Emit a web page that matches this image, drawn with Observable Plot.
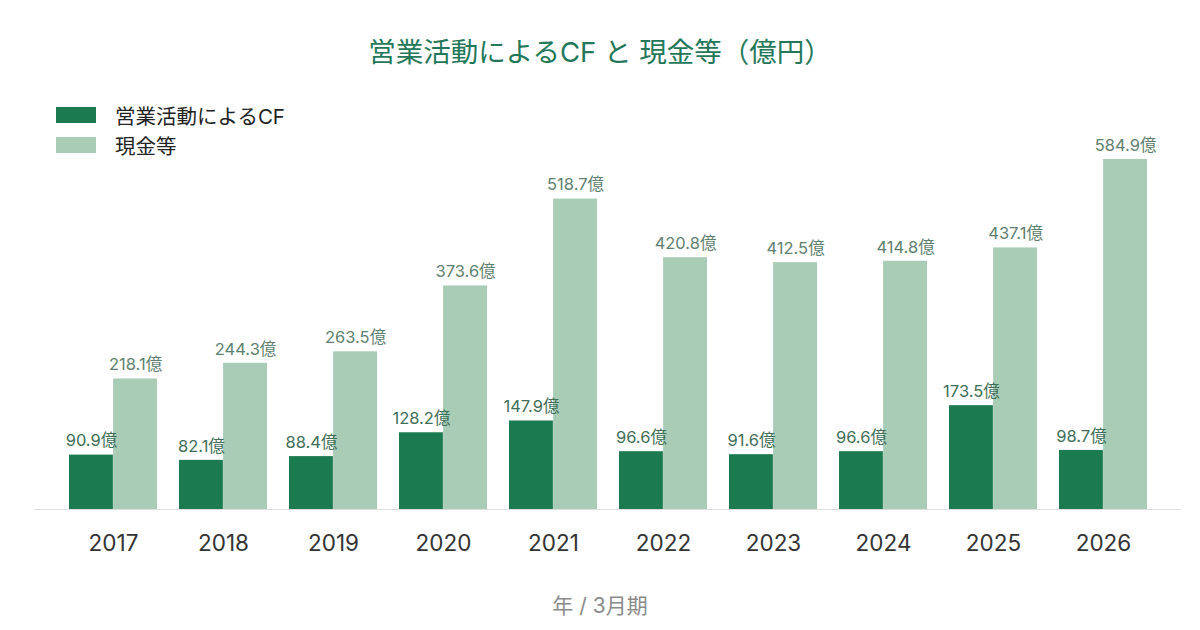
<!DOCTYPE html>
<html><head><meta charset="utf-8">
<script src="https://cdn.jsdelivr.net/npm/d3@7"></script>
<script src="https://cdn.jsdelivr.net/npm/@observablehq/plot@0.6"></script>
<style>
body{margin:0;background:#fff;font-family:Inter,"Noto Sans CJK JP",sans-serif;}
#wrap{position:relative;width:1200px;height:630px;overflow:hidden;}
#title{position:absolute;left:0;width:1200px;top:32px;text-align:center;font-size:27.5px;color:#23785a;line-height:40px;}
#legend{position:absolute;left:56px;top:100px;font-size:20.5px;color:#222;}
.li{display:flex;align-items:center;height:30px;}
.sw{width:40px;height:16px;margin-right:19px;}
#foot{position:absolute;left:0;width:1200px;top:589px;text-align:center;font-size:21px;color:#8a8a8a;}
#chart{position:absolute;left:0;top:0;}
</style></head>
<body><div id="wrap"><div id="chart"></div>
<div id="title">営業活動によるCF と 現金等（億円）</div>
<div id="legend"></div>
<div id="foot">年 / 3月期</div></div>
<script>
const years = ["2017","2018","2019","2020","2021","2022","2023","2024","2025","2026"];
const operatingCF = [90.9,82.1,88.4,128.2,147.9,96.6,91.6,96.6,173.5,98.7];
const cash = [218.1,244.3,263.5,373.6,518.7,420.8,412.5,414.8,437.1,584.9];
const seriesNames = ["営業活動によるCF","現金等"];
const colors = ["#1c7a50","#a8ccb6"];

const cfData = years.map((y,i)=>({year:y, value:operatingCF[i]}));
const cashData = years.map((y,i)=>({year:y, value:cash[i]}));

const W=1200,H=630,ml=34,mr=19;
const step=(W-ml-mr)/(years.length-0.2+0.6);
const half=step*0.8/2;
const fmt = v => v.toFixed(1)+"億";

const plot = Plot.plot({
  width:W, height:H, marginLeft:ml, marginRight:mr, marginTop:120, marginBottom:121,
  style:{fontFamily:'Inter,"Noto Sans CJK JP",sans-serif', background:"transparent"},
  x:{domain:years, paddingInner:0.2, paddingOuter:0.3, label:null, axis:null},
  y:{domain:[0,650], axis:null},
  marks:[
    Plot.barY(cfData,{x:"year", y:"value", fill:colors[0], insetRight:half}),
    Plot.barY(cashData,{x:"year", y:"value", fill:colors[1], insetLeft:half}),
    Plot.ruleY([0],{stroke:"#dddddd", strokeWidth:1}),
    Plot.text(cfData,{x:"year", y:"value", text:d=>fmt(d.value), dx:-half/2, dy:-14, fill:"#3f6e58", fontSize:16.5}),
    Plot.text(cashData,{x:"year", y:"value", text:d=>fmt(d.value), dx:half/2, dy:-14, fill:"#5f7f70", fontSize:16.5}),
    Plot.axisX({tickSize:0, tickPadding:26, fontSize:22.5, fill:"#333", label:null})
  ]
});
document.getElementById("chart").appendChild(plot);
const lg=document.getElementById("legend");
seriesNames.forEach((n,i)=>{
  const d=document.createElement("div");d.className="li";
  d.innerHTML=`<div class="sw" style="background:${colors[i]}"></div><span>${n}</span>`;
  lg.appendChild(d);
});
</script></body></html>
